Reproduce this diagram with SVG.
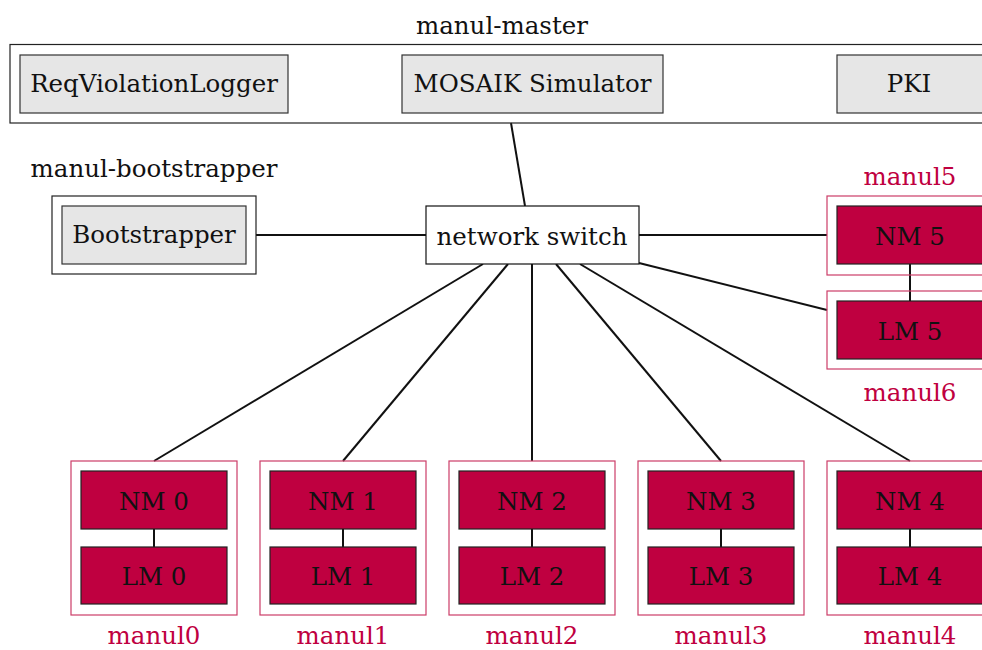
<svg xmlns="http://www.w3.org/2000/svg" width="982" height="650" viewBox="0 0 982 650">
  <style>
    text { font-family: "DejaVu Serif", "Liberation Serif", serif; font-size: 24.5px; text-anchor: middle; fill: #111; }
    .host { fill: none; stroke: #222; stroke-width: 1.2; }
    .svc { fill: #e6e6e6; stroke: #333; stroke-width: 1.2; }
    .sw { fill: #fff; stroke: #111; stroke-width: 1.2; }
    .node { fill: none; stroke: #cc3d68; stroke-width: 1.2; }
    .mgr { fill: #bf0040; stroke: #222; stroke-width: 1.2; }
    .red { fill: #bf0040; }
    .link { stroke: #111; stroke-width: 2; fill: none; }
  </style>
  <rect width="982" height="650" fill="#fff"/>

  <!-- connectors -->
  <g id="connectors">
    <line class="link" x1="511" y1="123" x2="525" y2="206"/>
    <line class="link" x1="256" y1="235" x2="426" y2="235"/>
    <line class="link" x1="639" y1="235" x2="827" y2="235"/>
    <line class="link" x1="639" y1="263" x2="827" y2="310"/>
    <line class="link" x1="910" y1="264" x2="910" y2="301"/>
    <line class="link" x1="483" y1="264" x2="154" y2="461"/>
    <line class="link" x1="508" y1="264" x2="343" y2="461"/>
    <line class="link" x1="532" y1="264" x2="532" y2="461"/>
    <line class="link" x1="556" y1="264" x2="721" y2="461"/>
    <line class="link" x1="580" y1="264" x2="910" y2="461"/>
    <line class="link" x1="154" y1="529" x2="154" y2="547"/>
    <line class="link" x1="343" y1="529" x2="343" y2="547"/>
    <line class="link" x1="532" y1="529" x2="532" y2="547"/>
    <line class="link" x1="721" y1="529" x2="721" y2="547"/>
    <line class="link" x1="910" y1="529" x2="910" y2="547"/>
  </g>

  <!-- master host -->
  <g id="manul-master">
    <text x="502" y="34">manul-master</text>
    <rect class="host" x="10" y="44.5" width="990" height="78.5"/>
  </g>
  <g id="req-violation-logger">
    <rect class="svc" x="20" y="55" width="268" height="58"/>
    <text x="154" y="92">ReqViolationLogger</text>
  </g>
  <g id="mosaik-simulator">
    <rect class="svc" x="402" y="55" width="261" height="58"/>
    <text x="532.5" y="92">MOSAIK Simulator</text>
  </g>
  <g id="pki">
    <rect class="svc" x="837" y="55" width="160" height="58"/>
    <text x="909" y="92">PKI</text>
  </g>

  <!-- bootstrapper host -->
  <g id="manul-bootstrapper">
    <text x="154" y="177">manul-bootstrapper</text>
    <rect class="host" x="52" y="196" width="204" height="78"/>
    <rect class="svc" x="62" y="206" width="184" height="58"/>
    <text x="154" y="243">Bootstrapper</text>
  </g>

  <!-- switch -->
  <g id="network-switch">
    <rect class="sw" x="426" y="206" width="213" height="58"/>
    <text x="532" y="245">network switch</text>
  </g>

  <!-- manul5 / manul6 -->
  <g id="manul5">
    <text class="red" x="910" y="185">manul5</text>
    <rect class="node" x="827" y="196" width="170" height="79"/>
    <rect class="mgr" x="837" y="206" width="160" height="58"/>
    <text x="910" y="245">NM 5</text>
  </g>
  <g id="manul6">
    <rect class="node" x="827" y="291" width="170" height="78"/>
    <rect class="mgr" x="837" y="301" width="160" height="58"/>
    <text x="910" y="340">LM 5</text>
    <text class="red" x="910" y="401">manul6</text>
  </g>

  <!-- bottom row -->
  <g id="manul0">
    <rect class="node" x="71" y="461" width="166" height="154"/>
    <rect class="mgr" x="81" y="471" width="146" height="58"/>
    <text x="154" y="510">NM 0</text>
    <rect class="mgr" x="81" y="547" width="146" height="57"/>
    <text x="154" y="585">LM 0</text>
    <text class="red" x="154" y="644">manul0</text>
  </g>
  <g id="manul1">
    <rect class="node" x="260" y="461" width="166" height="154"/>
    <rect class="mgr" x="270" y="471" width="146" height="58"/>
    <text x="343" y="510">NM 1</text>
    <rect class="mgr" x="270" y="547" width="146" height="57"/>
    <text x="343" y="585">LM 1</text>
    <text class="red" x="343" y="644">manul1</text>
  </g>
  <g id="manul2">
    <rect class="node" x="449" y="461" width="166" height="154"/>
    <rect class="mgr" x="459" y="471" width="146" height="58"/>
    <text x="532" y="510">NM 2</text>
    <rect class="mgr" x="459" y="547" width="146" height="57"/>
    <text x="532" y="585">LM 2</text>
    <text class="red" x="532" y="644">manul2</text>
  </g>
  <g id="manul3">
    <rect class="node" x="638" y="461" width="166" height="154"/>
    <rect class="mgr" x="648" y="471" width="146" height="58"/>
    <text x="721" y="510">NM 3</text>
    <rect class="mgr" x="648" y="547" width="146" height="57"/>
    <text x="721" y="585">LM 3</text>
    <text class="red" x="721" y="644">manul3</text>
  </g>
  <g id="manul4">
    <rect class="node" x="827" y="461" width="170" height="154"/>
    <rect class="mgr" x="837" y="471" width="160" height="58"/>
    <text x="910" y="510">NM 4</text>
    <rect class="mgr" x="837" y="547" width="160" height="57"/>
    <text x="910" y="585">LM 4</text>
    <text class="red" x="910" y="644">manul4</text>
  </g>
</svg>
